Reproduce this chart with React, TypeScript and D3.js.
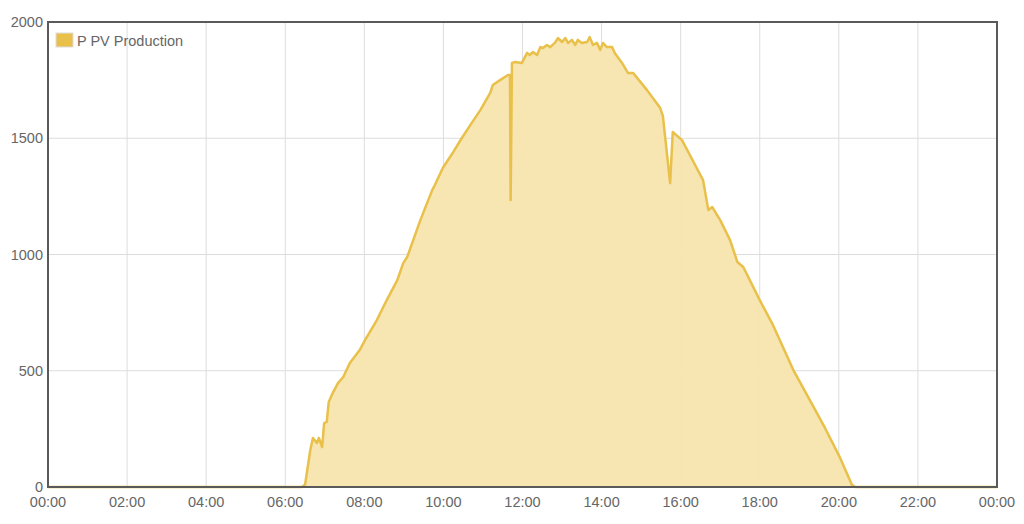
import React from "react";
import * as d3 from "d3";

const times = [
  "00:00", "06:25", "06:30", "06:38", "06:42", "06:48", "06:51", "06:56", "06:59", "07:03",
  "07:06", "07:12", "07:20", "07:28", "07:38", "07:53", "08:01", "08:19", "08:34", "08:50",
  "08:59", "09:05", "09:25", "09:43", "09:47", "09:59", "10:15", "10:28", "10:43", "10:56",
  "11:11", "11:15", "11:27", "11:38", "11:41", "11:42", "11:44", "11:49", "11:59", "12:07",
  "12:11", "12:16", "12:22", "12:27", "12:31", "12:37", "12:42", "12:49", "12:54", "13:00",
  "13:05", "13:09", "13:15", "13:20", "13:24", "13:30", "13:38", "13:42", "13:47", "13:53",
  "13:58", "14:02", "14:08", "14:16", "14:20", "14:31", "14:40", "14:48", "15:09", "15:29",
  "15:33", "15:44", "15:48", "16:02", "16:14", "16:34", "16:42", "16:48", "17:00", "17:15",
  "17:26", "17:35", "18:00", "18:20", "18:51", "19:16", "19:39", "20:02", "20:20", "20:25",
  "24:00",
];

const power = [
  0, 0, 9, 159, 211, 189, 211, 172, 275, 280,
  366, 404, 447, 473, 533, 589, 632, 718, 804, 890,
  963, 989, 1148, 1277, 1299, 1372, 1441, 1501, 1566, 1621,
  1695, 1729, 1752, 1772, 1772, 1234, 1824, 1828, 1824, 1867,
  1858, 1871, 1858, 1892, 1888, 1901, 1892, 1910, 1931, 1914,
  1931, 1910, 1923, 1901, 1923, 1910, 1914, 1935, 1901, 1910,
  1880, 1910, 1892, 1892, 1867, 1824, 1781, 1781, 1707, 1630,
  1596, 1307, 1527, 1492, 1428, 1320, 1191, 1204, 1148, 1062,
  968, 946, 804, 697, 503, 374, 254, 125, 9, 0,
  0,
];

const xTickLabels = ["00:00", "02:00", "04:00", "06:00", "08:00", "10:00", "12:00", "14:00", "16:00", "18:00", "20:00", "22:00", "00:00"];
const yTicks = [0, 500, 1000, 1500, 2000];
const seriesName = "P PV Production";

const toMin = (t: string) => {
  const [h, m] = t.split(":").map(Number);
  return h * 60 + m;
};

export default function App() {
  const W = 1024, H = 524;
  const left = 48, right = 997, top = 22, bottom = 487;
  const x = d3.scaleLinear().domain([0, 1440]).range([left, right]);
  const y = d3.scaleLinear().domain([0, 2000]).range([bottom, top]);
  const data = times.map((t, i) => ({ t: toMin(t), v: power[i] }));
  const line = d3.line<{ t: number; v: number }>().x(d => x(d.t)).y(d => y(d.v));
  const area = d3.area<{ t: number; v: number }>().x(d => x(d.t)).y0(y(0)).y1(d => y(d.v));
  const font = "Liberation Sans, Arial, sans-serif";
  const fs = 14.5;
  const lineColor = "#E8C04A";
  return (
    <svg width={W} height={H} style={{ position: "absolute", left: 0, top: 0, display: "block", background: "#fff" }}>
      {xTickLabels.map((l, i) => (
        <line key={"vg" + i} x1={x(i * 120)} x2={x(i * 120)} y1={top} y2={bottom} stroke="#dddddd" strokeWidth={1} />
      ))}
      {yTicks.map(v => (
        <line key={"hg" + v} x1={left} x2={right} y1={y(v)} y2={y(v)} stroke="#dddddd" strokeWidth={1} />
      ))}
      <path d={area(data) || ""} fill="#F7E4AE" fillOpacity={0.95} />
      <path d={line(data) || ""} fill="none" stroke={lineColor} strokeWidth={2.5} strokeLinejoin="round" />
      <rect x={left} y={top} width={right - left} height={bottom - top} fill="none" stroke="#5a5a5a" strokeWidth={2} />
      {yTicks.map(v => (
        <text key={"yl" + v} x={43} y={y(v) + 5} textAnchor="end" fontFamily={font} fontSize={fs} fill="#666">{v}</text>
      ))}
      {xTickLabels.map((l, i) => (
        <text key={"xl" + i} x={x(i * 120)} y={507} textAnchor="middle" fontFamily={font} fontSize={fs} fill="#666">{l}</text>
      ))}
      <rect x={56} y={33} width={17} height={14} fill={lineColor} stroke="#ddd" strokeWidth={1} />
      <text x={77} y={46} fontFamily={font} fontSize={fs} fill="#666">{seriesName}</text>
    </svg>
  );
}
